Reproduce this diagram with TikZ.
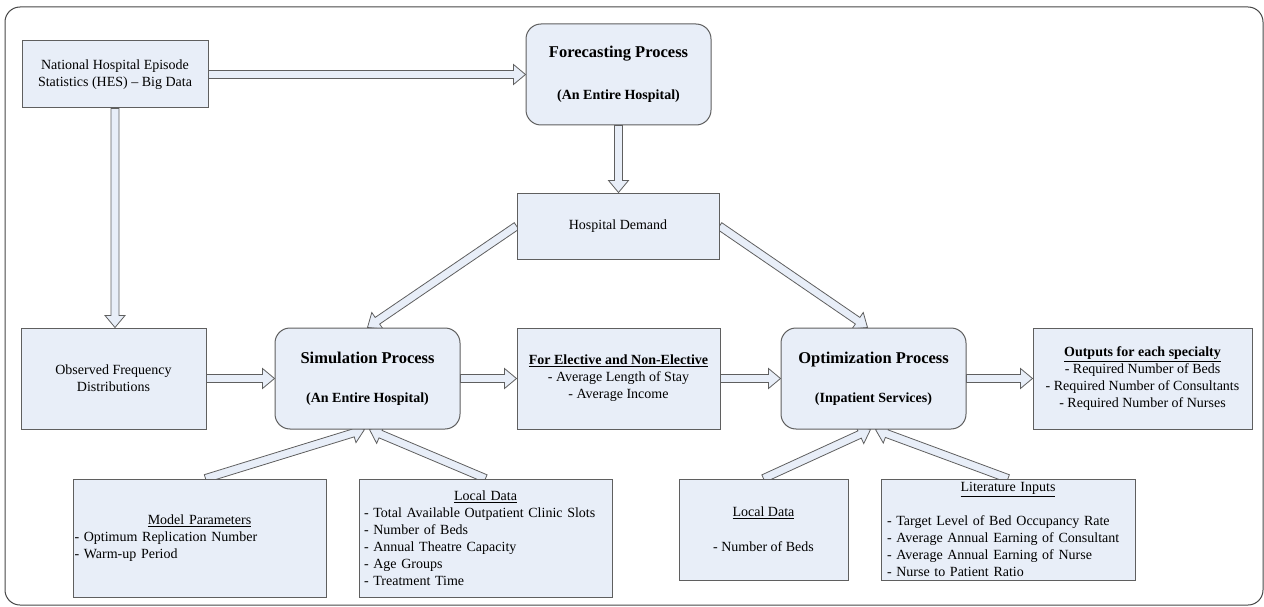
\documentclass[tikz,border=0pt]{standalone}
\usepackage{fontspec}
\setmainfont{Liberation Serif}
\usetikzlibrary{calc}
\pgfdeclarelayer{bg}
\pgfsetlayers{bg,main}
\definecolor{boxfill}{RGB}{232,238,248}
\definecolor{boxline}{RGB}{95,95,95}
\definecolor{framecol}{RGB}{70,70,70}
\tikzset{
  box/.style={draw=boxline, fill=boxfill, line width=1pt, inner sep=0pt,
    font=\fontsize{14}{17}\selectfont, align=center},
  proc/.style={box, rounded corners=15pt},
  blockarrow/.style={draw=boxline, fill=boxfill, line width=0.8pt, line join=miter},
  outerframe/.style={draw=framecol, line width=1pt, rounded corners=15pt},
}
\newcommand{\barrow}[2]{%
  \path (#1) coordinate (bs) (#2) coordinate (be);
  \path ($(be)!12pt!(bs)$) coordinate (bh);
  \draw[blockarrow] ($(bs)!4pt!90:(be)$) -- ($(bh)!4pt!90:(be)$) -- ($(bh)!10pt!90:(be)$)
    -- (be) -- ($(bh)!10pt!-90:(be)$) -- ($(bh)!4pt!-90:(be)$) -- ($(bs)!4pt!-90:(be)$) -- cycle;
}
\newcommand{\ptitle}[1]{{\fontsize{16.5}{17}\selectfont\bfseries #1}}
\begin{document}
\begin{tikzpicture}[x=1pt,y=-1pt]
\useasboundingbox (0,0) rectangle (1264,607);

\node[box, minimum width=186pt, minimum height=67pt] (hes) at (115,74.5)
  {National Hospital Episode\\Statistics (HES) – Big Data};
\node[proc, minimum width=185pt, minimum height=101pt] (fc) at (618.5,74.5)
  {\ptitle{Forecasting Process}\\[25pt]\textbf{(An Entire Hospital)}};
\node[box, minimum width=202pt, minimum height=66pt] (hd) at (618,226) {Hospital Demand};
\node[box, minimum width=185pt, minimum height=101pt] (obs) at (113.5,378.5)
  {Observed Frequency\\Distributions};
\node[proc, minimum width=185pt, minimum height=101pt] (sim) at (367.5,378.5)
  {\ptitle{Simulation Process}\\[22pt]\textbf{(An Entire Hospital)}};
\node[box, minimum width=203pt, minimum height=101pt] (el) at (618.5,378.5)
  {\textbf{\underline{For Elective and Non-Elective}}\\- Average Length of Stay\\- Average Income};
\node[proc, minimum width=185pt, minimum height=101pt] (opt) at (873.5,378.5)
  {\ptitle{Optimization Process}\\[22pt]\textbf{(Inpatient Services)}};
\node[box, minimum width=219pt, minimum height=101pt] (out) at (1142.5,378.5)
  {\textbf{\underline{Outputs for each specialty}}\\- Required Number of Beds\\- Required Number of Consultants\\- Required Number of Nurses};
\node[box, minimum width=253pt, minimum height=118pt, text width=250pt, align=left] (mp) at (199.5,538)
  {\hfill\underline{Model Parameters}\hfill\null\\- Optimum Replication Number\\- Warm-up Period};
\node[box, minimum width=253pt, minimum height=118pt, text width=243pt, align=left] (lds) at (485.5,538)
  {\hfill\underline{Local Data}\hfill\null\\- Total Available Outpatient Clinic Slots\\- Number of Beds\\- Annual Theatre Capacity\\- Age Groups\\- Treatment Time};
\node[box, minimum width=169pt, minimum height=101pt] (ldo) at (763.5,529.5)
  {\underline{Local Data}\\[18pt]- Number of Beds};
\node[box, minimum width=254pt, minimum height=101pt, text width=242pt, align=left] (lit) at (1008,529.5)
  {\hfill\underline{Literature Inputs}\hfill\null\\[17pt]- Target Level of Bed Occupancy Rate\\- Average Annual Earning of Consultant\\- Average Annual Earning of Nurse\\- Nurse to Patient Ratio};

\begin{pgfonlayer}{bg}
\draw[outerframe] (5,7) rectangle (1263,605);
\barrow{hes.east}{fc.west}
\barrow{hes.south}{hes.south |- obs.north}
\barrow{fc.south}{fc.south |- hd.north}
\barrow{hd.west}{sim.north}
\barrow{hd.east}{$(opt.north)+(-6,0)$}
\barrow{obs.east}{sim.west}
\barrow{sim.east}{el.west}
\barrow{el.east}{opt.west}
\barrow{opt.east}{out.west}
\barrow{$(mp.north)+(6,0)$}{$(sim.south)+(-3,0)$}
\barrow{lds.north}{$(sim.south)+(2,0)$}
\barrow{ldo.north}{$(opt.south)+(-3,0)$}
\barrow{lit.north}{$(opt.south)+(2,0)$}
\end{pgfonlayer}
\end{tikzpicture}
\end{document}
